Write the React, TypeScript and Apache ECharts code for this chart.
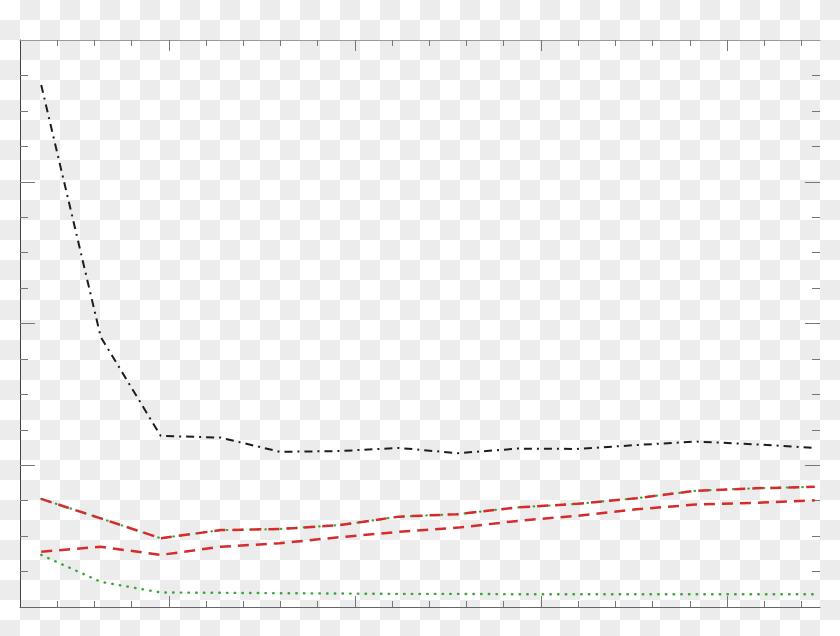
import * as echarts from 'echarts';
import { useEffect, useRef } from 'react';
import type { ECharts } from 'echarts';

// x positions of the samples (in minor-tick units of the x axis)
const xValues = [0.57, 2.17, 3.78, 5.39, 6.98, 8.59, 10.18, 11.77, 13.37, 14.96, 16.57, 18.16, 19.77, 21.36];

// series values (y axis 0..160, major every 40)
const blackDashDot = [147.3, 76.2, 48.3, 47.8, 43.8, 44.0, 44.9, 43.4, 44.7, 44.6, 45.7, 46.7, 45.9, 44.9];
const upperRedGreen = [30.5, 25.0, 19.4, 21.7, 22.0, 23.1, 25.5, 26.2, 28.1, 29.1, 30.7, 32.8, 33.5, 33.9];
const lowerRed = [15.6, 17.0, 14.7, 17.0, 18.0, 19.7, 21.2, 22.4, 24.3, 25.7, 27.6, 28.9, 29.4, 30.1];
const lowerGreen = [14.7, 7.1, 4.1, 4.0, 3.9, 3.8, 3.7, 3.7, 3.6, 3.6, 3.6, 3.6, 3.6, 3.6];

// tick positions
const xMinorTicks = [1, 2, 3, 5, 6, 7, 8, 10, 11, 12, 13, 15, 16, 17, 18, 20, 21];
const xMajorTicks = [4, 9, 14, 19];
const yMinorTicks = [10, 20, 30, 50, 60, 70, 90, 100, 110, 130, 140, 150];
const yMajorTicks = [40, 80, 120];

const X_MAX = 21.5;
const Y_MAX = 160;

const pairs = (ys: number[]) => ys.map((y, i) => [xValues[i], y]);

const xAxisDef = (position: string, ticks: number[], len: number, lineColor: string | null) => ({
  type: 'value',
  position,
  min: 0,
  max: X_MAX,
  axisLine: { show: lineColor !== null, onZero: false, lineStyle: { color: lineColor ?? '#777', width: 1 } },
  axisTick: { show: true, inside: true, length: len, customValues: ticks, lineStyle: { color: '#777', width: 1 } },
  axisLabel: { show: false },
  splitLine: { show: false },
});

const yAxisDef = (position: string, ticks: number[], len: number, lineColor: string | null) => ({
  type: 'value',
  position,
  min: 0,
  max: Y_MAX,
  axisLine: { show: lineColor !== null, onZero: false, lineStyle: { color: lineColor ?? '#777', width: 1 } },
  axisTick: { show: true, inside: true, length: len, customValues: ticks, lineStyle: { color: '#777', width: 1 } },
  axisLabel: { show: false },
  splitLine: { show: false },
});

const App = () => {
  const chartRef = useRef<HTMLDivElement>(null);

  useEffect(() => {
    let chart: ECharts | null = null;
    if (chartRef.current !== null) {
      chart = echarts.init(chartRef.current, null, { renderer: 'svg' });
    }

    const line = (name: string, ys: number[], color: string, width: number, dash: number[], cap = 'butt') => ({
      name,
      type: 'line',
      xAxisIndex: 0,
      yAxisIndex: 0,
      data: pairs(ys),
      symbol: 'none',
      showSymbol: false,
      lineStyle: { color, width, type: dash, cap },
    });

    chart?.setOption({
      animation: false,
      backgroundColor: 'transparent',
      grid: { left: 20, top: 40, right: 20, bottom: 29 },
      xAxis: [
        xAxisDef('bottom', xMinorTicks, 6, '#666'),
        xAxisDef('bottom', xMajorTicks, 11, null),
        xAxisDef('top', xMinorTicks, 6, '#9a9a9a'),
        xAxisDef('top', xMajorTicks, 11, null),
      ],
      yAxis: [
        yAxisDef('left', yMinorTicks, 8, '#444'),
        yAxisDef('left', yMajorTicks, 15, null),
        yAxisDef('right', yMinorTicks, 8, null),
        yAxisDef('right', yMajorTicks, 15, null),
      ],
      series: [
        line('black', blackDashDot, '#1c1c1c', 2, [8, 5, 2, 5]),
        line('upper green', upperRedGreen, '#3aa63a', 2.2, [0.5, 7.2], 'round'),
        line('upper red', upperRedGreen, '#d42c2c', 2.5, [11, 7]),
        line('lower red', lowerRed, '#d42c2c', 2.5, [11, 7]),
        line('lower green', lowerGreen, '#3aa63a', 2.4, [0.5, 7.2], 'round'),
      ],
    });

    return () => {
      chart?.dispose();
      chart = null;
    };
  }, []);

  return (
    <div
      style={{
        position: 'fixed',
        left: 0,
        top: 0,
        width: 840,
        height: 636,
        backgroundImage: 'repeating-conic-gradient(#ececec 0 25%, #ffffff 0 50%)',
        backgroundSize: '40px 40px',
      }}
    >
      <div ref={chartRef} style={{ width: 840, height: 636 }}></div>
    </div>
  );
};
export default App;
